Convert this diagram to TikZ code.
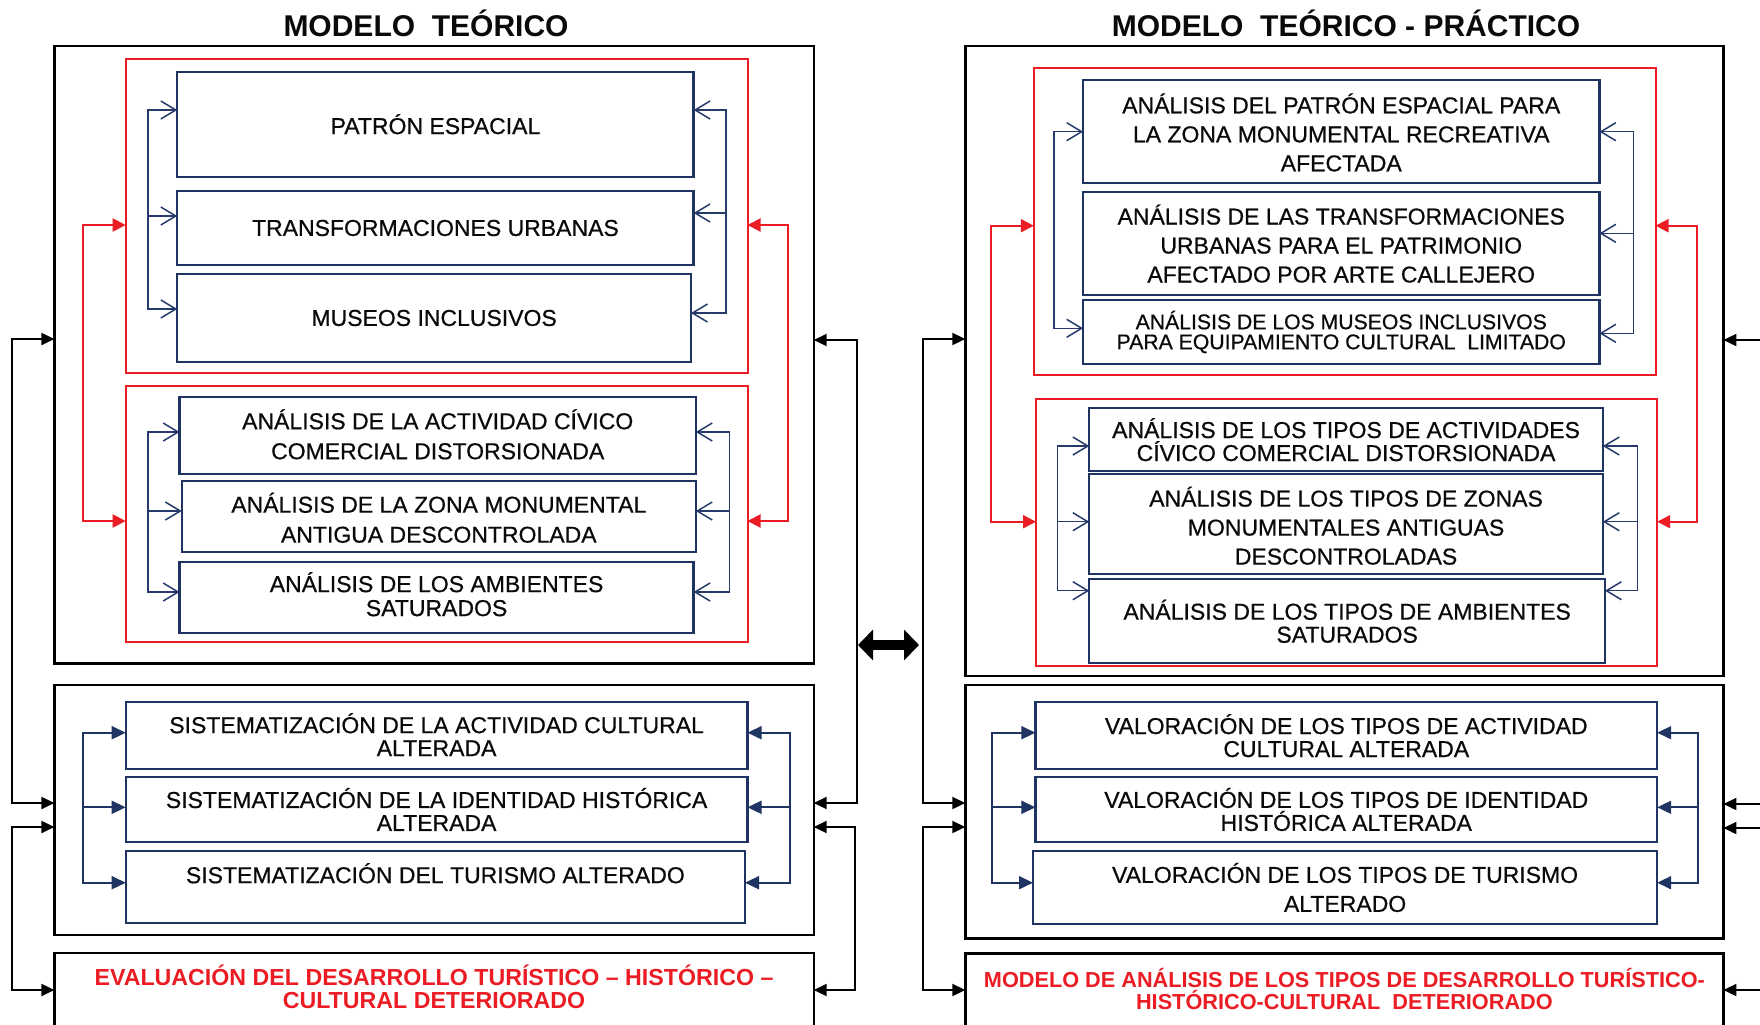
\documentclass[tikz,border=0pt]{standalone}
\usepackage{fontspec}
\setmainfont{Liberation Sans}
\newfontfamily\heavy{Liberation Sans}[FakeBold=0.6]
\usetikzlibrary{arrows.meta}
\definecolor{navy}{RGB}{31,52,98}
\definecolor{bline}{RGB}{38,58,108}
\definecolor{myred}{RGB}{236,28,36}
\definecolor{ink}{RGB}{10,10,10}
\newcommand\mkbox[6]{%
  \pgfmathsetmacro\bxcx{(#3+#5)/2}%
  \pgfmathsetmacro\bxcy{(#4+#6)/2}%
  \pgfmathsetmacro\bxw{(#5-#3)*0.5}%
  \pgfmathsetmacro\bxh{(#6-#4)*0.5}%
  \node[#1, minimum width=\bxw pt, minimum height=\bxh pt] (#2) at (\bxcx,\bxcy) {};}
% bracket: style, x, ytop, top anchor, ybottom, bottom anchor
\newcommand\mkbracket[6]{%
  \coordinate (bkA) at (#2,#3);\coordinate (bkB) at (#2,#5);%
  \draw[#1] (#4 |- bkA) -- (bkA) -- (bkB) -- (#6 |- bkB);}
% single arrow: style, x, y, anchor
\newcommand\mkarrow[4]{%
  \coordinate (bkC) at (#2,#3);%
  \draw[#1] (bkC) -- (#4 |- bkC);}
\tikzset{
  blkbox/.style={draw=black, line width=1.2pt, inner sep=0pt, outer sep=0pt},
  redbox/.style={draw=myred, line width=1pt, inner sep=0pt, outer sep=0pt},
  navybox/.style={draw=navy, line width=1.15pt, fill=white, inner sep=0pt, outer sep=0pt},
  barbline/.style={draw=bline, line width=0.75pt, line join=miter},
  barbboth/.style={barbline, {Straight Barb[length=7.5pt,width=9pt]}-{Straight Barb[length=7.5pt,width=9pt]}},
  barbone/.style={barbline, -{Straight Barb[length=7.5pt,width=9pt]}},
  redline/.style={draw=myred, line width=1pt, line join=miter},
  redboth/.style={redline, {Triangle[length=6.5pt,width=6.5pt]}-{Triangle[length=6.5pt,width=6.5pt]}},
  fillline/.style={draw=navy, line width=0.9pt, line join=miter},
  fillboth/.style={fillline, {Triangle[length=7pt,width=6.5pt]}-{Triangle[length=7pt,width=6.5pt]}},
  fillone/.style={fillline, -{Triangle[length=7pt,width=6.5pt]}},
  fbline/.style={draw=black, line width=1pt, line join=miter},
  fbboth/.style={fbline, {Triangle[length=6.5pt,width=6pt]}-{Triangle[length=6.5pt,width=6pt]}},
  fbone/.style={fbline, -{Triangle[length=6.5pt,width=6pt]}},
  txt/.style={align=center, inner sep=0pt, text=ink, font=\heavy\fontsize{11.5}{15}\selectfont},
  tight/.style={align=center, inner sep=0pt, text=ink, font=\heavy\fontsize{11.5}{11.5}\selectfont},
  small/.style={align=center, inner sep=0pt, text=ink, font=\heavy\fontsize{10.6}{10}\selectfont},
  redtxt/.style={align=center, inner sep=0pt, text=myred, font=\bfseries\fontsize{11.6}{11.5}\selectfont},
  title/.style={inner sep=0pt, text=ink, font=\bfseries\fontsize{15}{16}\selectfont},
}
\begin{document}
\begin{tikzpicture}[x=0.5pt,y=-0.5pt]
\fill[white] (0,0) rectangle (1760,1024);
\useasboundingbox (0,0) rectangle (1760,1024);

% titles
\node[title] (T1) at (426,23) {MODELO\ \ TEÓRICO};
\node[title] (T2) at (1346,23) {MODELO\ \ TEÓRICO - PRÁCTICO};

% ---------- left model ----------
\mkbox{blkbox}{O1}{54.4}{46}{813.7}{663.3}
\mkbox{blkbox}{O2}{54.4}{685}{813.7}{935}
\mkbox{blkbox}{O3}{54.4}{953}{813.7}{1045}
\mkbox{redbox}{R1}{125.7}{59.3}{747.5}{372.7}
\mkbox{redbox}{R2}{125.7}{386}{747.5}{641.7}
\mkbox{navybox}{P1}{177.3}{71.7}{693.6}{176.7}
\mkbox{navybox}{P2}{177.3}{190.7}{693.6}{265.3}
\mkbox{navybox}{P3}{177.3}{274}{691}{362}
\mkbox{navybox}{A1}{179.6}{396.7}{695.8}{474}
\mkbox{navybox}{A2}{181.8}{480.7}{695.8}{551.7}
\mkbox{navybox}{A3}{179.6}{562.3}{693.6}{633.3}
\mkbox{navybox}{S1}{125.7}{702.3}{747.5}{769}
\mkbox{navybox}{S2}{125.7}{777.3}{747.5}{841.7}
\mkbox{navybox}{S3}{125.7}{850.7}{745}{923.3}

\node[txt] (tP1) at (P1) {PATRÓN ESPACIAL};
\node[txt] (tP2) at (P2) {TRANSFORMACIONES URBANAS};
\node[txt] (tP3) at (P3) {MUSEOS INCLUSIVOS};
\node[txt] (tA1) at ([yshift=0.5pt]A1.center) {ANÁLISIS DE LA ACTIVIDAD CÍVICO\\COMERCIAL DISTORSIONADA};
\node[txt] (tA2) at ([yshift=-0.8pt]A2.center) {ANÁLISIS DE LA ZONA MONUMENTAL\\ANTIGUA DESCONTROLADA};
\node[txt, font=\heavy\fontsize{11.5}{12}\selectfont] (tA3) at ([yshift=1.8pt]A3.center) {ANÁLISIS DE LOS AMBIENTES\\SATURADOS};
\node[tight] (tS1) at ([yshift=0.5pt]S1.center) {SISTEMATIZACIÓN DE LA ACTIVIDAD CULTURAL\\ALTERADA};
\node[tight] (tS2) at (S2) {SISTEMATIZACIÓN DE LA IDENTIDAD HISTÓRICA\\ALTERADA};
\node[txt] (tS3) at ([yshift=6.85pt]S3.center) {SISTEMATIZACIÓN DEL TURISMO ALTERADO};
\node[redtxt] (tO3) at (434,986.5) {EVALUACIÓN DEL DESARROLLO TURÍSTICO – HISTÓRICO –\\CULTURAL DETERIORADO};

% blue open-arrow brackets
\mkbracket{barbboth}{148}{110}{P1.west}{309}{P3.west}
\mkarrow{barbone}{148}{216}{P2.west}
\mkbracket{barbboth}{726}{110}{P1.east}{313}{P3.east}
\mkarrow{barbone}{726}{213}{P2.east}
\mkbracket{barbboth}{148}{432}{A1.west}{592}{A3.west}
\mkarrow{barbone}{148}{511}{A2.west}
\mkbracket{barbboth}{729.5}{432}{A1.east}{592}{A3.east}
\mkarrow{barbone}{729.5}{511}{A2.east}
% red brackets
\mkbracket{redboth}{83}{225}{R1.west}{521}{R2.west}
\mkbracket{redboth}{788}{225}{R1.east}{521}{R2.east}
% lower filled brackets
\mkbracket{fillboth}{83}{732.7}{S1.west}{882.7}{S3.west}
\mkarrow{fillone}{83}{807.3}{S2.west}
\mkbracket{fillboth}{790}{732.7}{S1.east}{882.7}{S3.east}
\mkarrow{fillone}{790}{807.3}{S2.east}
% feedback
\mkbracket{fbboth}{12.3}{339}{O1.west}{803}{O2.west}
\mkbracket{fbboth}{12.3}{827}{O2.west}{990}{O3.west}
\mkbracket{fbboth}{857}{340}{O1.east}{803}{O2.east}
\mkbracket{fbboth}{855}{827}{O2.east}{990}{O3.east}

% ---------- right model ----------
\mkbox{blkbox}{Q1}{965.3}{46}{1723.4}{675.7}
\mkbox{blkbox}{Q2}{965.3}{685}{1723.4}{938.3}
\mkbox{blkbox}{Q3}{965.3}{953.5}{1723.4}{1045}
\mkbox{redbox}{RR1}{1033.8}{67.7}{1655.5}{375}
\mkbox{redbox}{RR2}{1036}{399}{1657.2}{665.7}
\mkbox{navybox}{B1}{1083.1}{80}{1599.4}{183.3}
\mkbox{navybox}{B2}{1083.1}{192.3}{1599.4}{295}
\mkbox{navybox}{B3}{1083.1}{300}{1599.4}{364}
\mkbox{navybox}{C1}{1089.3}{408.3}{1602.8}{471}
\mkbox{navybox}{C2}{1089.3}{474.3}{1602.8}{574.3}
\mkbox{navybox}{C3}{1089.3}{579.3}{1605}{663.3}
\mkbox{navybox}{V1}{1035.4}{702.3}{1657.2}{769}
\mkbox{navybox}{V2}{1035.4}{777.3}{1657.2}{841.7}
\mkbox{navybox}{V3}{1033}{850.7}{1657.2}{924.3}

\node[txt, font=\heavy\fontsize{11.5}{14.5}\selectfont] (tB1) at ([yshift=-0.4pt]B1.center) {ANÁLISIS DEL PATRÓN ESPACIAL PARA\\LA ZONA MONUMENTAL RECREATIVA\\AFECTADA};
\node[txt, font=\heavy\fontsize{11.5}{14.5}\selectfont] (tB2) at (B2) {ANÁLISIS DE LAS TRANSFORMACIONES\\URBANAS PARA EL PATRIMONIO\\AFECTADO POR ARTE CALLEJERO};
\node[small] (tB3) at (B3) {ANÁLISIS DE LOS MUSEOS INCLUSIVOS\\PARA EQUIPAMIENTO CULTURAL\ \ LIMITADO};
\node[tight] (tC1) at (C1) {ANÁLISIS DE LOS TIPOS DE ACTIVIDADES\\CÍVICO COMERCIAL DISTORSIONADA};
\node[txt, font=\heavy\fontsize{11.5}{14.5}\selectfont] (tC2) at ([yshift=-0.7pt]C2.center) {ANÁLISIS DE LOS TIPOS DE ZONAS\\MONUMENTALES ANTIGUAS\\DESCONTROLADAS};
\node[tight] (tC3) at (C3) {ANÁLISIS DE LOS TIPOS DE AMBIENTES\\SATURADOS};
\node[tight] (tV1) at (V1) {VALORACIÓN DE LOS TIPOS DE ACTIVIDAD\\CULTURAL ALTERADA};
\node[tight] (tV2) at (V2) {VALORACIÓN DE LOS TIPOS DE IDENTIDAD\\HISTÓRICA ALTERADA};
\node[txt, font=\heavy\fontsize{11.5}{14.5}\selectfont] (tV3) at (V3) {VALORACIÓN DE LOS TIPOS DE TURISMO\\ALTERADO};
\node[redtxt, font=\bfseries\fontsize{10.85}{11}\selectfont] (tQ3) at (1344.4,989) {MODELO DE ANÁLISIS DE LOS TIPOS DE DESARROLLO TURÍSTICO-\\HISTÓRICO-CULTURAL\ \ DETERIORADO};

\mkbracket{barbboth}{1054}{131.7}{B1.west}{328.3}{B3.west}
\mkbracket{barbboth}{1633.7}{131.7}{B1.east}{333.3}{B3.east}
\mkarrow{barbone}{1633.7}{233.3}{B2.east}
\mkbracket{barbboth}{1057.3}{446}{C1.west}{590.7}{C3.west}
\mkarrow{barbone}{1057.3}{521.7}{C2.west}
\mkbracket{barbboth}{1637.6}{446}{C1.east}{590.7}{C3.east}
\mkarrow{barbone}{1637.6}{521.7}{C2.east}
\mkbracket{redboth}{991}{225.7}{RR1.west}{521.7}{RR2.west}
\mkbracket{redboth}{1697}{225.7}{RR1.east}{521.7}{RR2.east}
\mkbracket{fillboth}{992.2}{732.7}{V1.west}{882.7}{V3.west}
\mkarrow{fillone}{992.2}{807.3}{V2.west}
\mkbracket{fillboth}{1698.2}{732.7}{V1.east}{882.7}{V3.east}
\mkarrow{fillone}{1698.2}{807.3}{V2.east}
\mkbracket{fbboth}{923.2}{339}{Q1.west}{803}{Q2.west}
\mkbracket{fbboth}{923.2}{827}{Q2.west}{990}{Q3.west}
\mkarrow{fbone}{1766}{340}{Q1.east}
\mkarrow{fbone}{1766}{804}{Q2.east}
\mkarrow{fbone}{1766}{828}{Q2.east}
\mkarrow{fbone}{1766}{990}{Q3.east}

% double arrow between the models
\coordinate (daL) at (858,645);
\coordinate (daR) at (919,645);
\draw[line width=5pt, {Triangle[length=7.5pt,width=15pt]}-{Triangle[length=7.5pt,width=15pt]}] (daL) -- (daR);
\end{tikzpicture}
\end{document}
